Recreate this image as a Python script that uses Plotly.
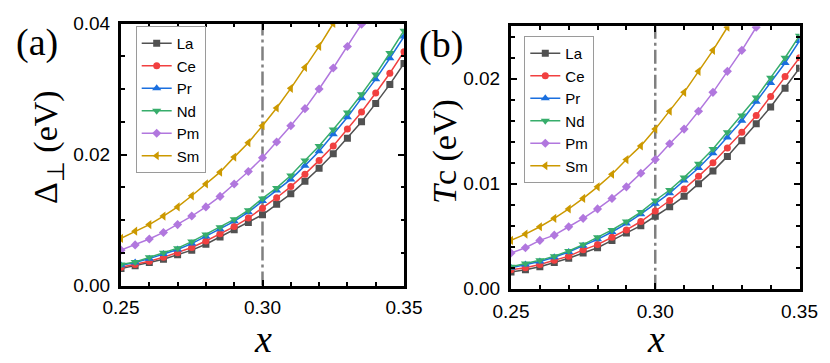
import plotly.graph_objects as go

X = [0.250, 0.255, 0.260, 0.265, 0.270, 0.275, 0.280, 0.285, 0.290, 0.295, 0.300,
     0.305, 0.310, 0.315, 0.320, 0.325, 0.330, 0.335, 0.340, 0.345, 0.350]

names = ["La", "Ce", "Pr", "Nd", "Pm", "Sm"]
colors = ["#515151", "#F14040", "#1A6FDF", "#37AD6B", "#B177DE", "#CC9900"]
symbols = ["square", "circle", "triangle-up", "triangle-down", "diamond", "triangle-left"]

# Panel (a): Delta_perp (eV)
delta_La = [0.0026, 0.0030, 0.0035, 0.0040, 0.0047, 0.0054, 0.0063, 0.0074, 0.0085, 0.0096, 0.0108,
            0.0124, 0.0140, 0.0159, 0.0179, 0.0201, 0.0225, 0.0250, 0.0278, 0.0307, 0.0339]
delta_Ce = [0.0028, 0.0032, 0.0037, 0.0043, 0.0050, 0.0058, 0.0068, 0.0079, 0.0090, 0.0103, 0.0118,
            0.0134, 0.0151, 0.0170, 0.0191, 0.0213, 0.0239, 0.0265, 0.0294, 0.0324, 0.0357]
delta_Pr = [0.0031, 0.0035, 0.0041, 0.0048, 0.0055, 0.0064, 0.0075, 0.0086, 0.0098, 0.0112, 0.0129,
            0.0145, 0.0162, 0.0183, 0.0205, 0.0231, 0.0257, 0.0286, 0.0315, 0.0347, 0.0380]
delta_Nd = [0.0032, 0.0036, 0.0043, 0.0050, 0.0057, 0.0067, 0.0078, 0.0089, 0.0101, 0.0115, 0.0133,
            0.0149, 0.0168, 0.0191, 0.0213, 0.0238, 0.0264, 0.0292, 0.0322, 0.0355, 0.0389]
delta_Pm = [0.0054, 0.0062, 0.0071, 0.0081, 0.0093, 0.0106, 0.0120, 0.0136, 0.0155, 0.0174, 0.0195,
            0.0219, 0.0244, 0.0270, 0.0300, 0.0332, 0.0365, 0.0399]
delta_Sm = [0.0072, 0.0083, 0.0093, 0.0106, 0.0120, 0.0137, 0.0155, 0.0173, 0.0196, 0.0218, 0.0244,
            0.0271, 0.0301, 0.0333, 0.0365, 0.0400]

# Panel (b): Tc (eV)
tc_La = [0.0016, 0.0018, 0.0021, 0.0025, 0.0029, 0.0034, 0.0039, 0.0046, 0.0053, 0.0060, 0.0069,
         0.0078, 0.0088, 0.0100, 0.0112, 0.0126, 0.0141, 0.0157, 0.0173, 0.0191, 0.0210]
tc_Ce = [0.0018, 0.0020, 0.0023, 0.0027, 0.0031, 0.0037, 0.0042, 0.0049, 0.0056, 0.0064, 0.0074,
         0.0084, 0.0095, 0.0107, 0.0120, 0.0134, 0.0149, 0.0165, 0.0183, 0.0202, 0.0220]
tc_Pr = [0.0020, 0.0023, 0.0026, 0.0030, 0.0035, 0.0041, 0.0047, 0.0054, 0.0062, 0.0071, 0.0081,
         0.0091, 0.0103, 0.0115, 0.0129, 0.0144, 0.0160, 0.0178, 0.0196, 0.0215, 0.0236]
tc_Nd = [0.0021, 0.0024, 0.0027, 0.0031, 0.0036, 0.0042, 0.0049, 0.0056, 0.0064, 0.0073, 0.0084,
         0.0094, 0.0106, 0.0119, 0.0133, 0.0149, 0.0165, 0.0182, 0.0201, 0.0220, 0.0241]
tc_Pm = [0.0034, 0.0039, 0.0046, 0.0051, 0.0059, 0.0067, 0.0076, 0.0086, 0.0097, 0.0110, 0.0123,
         0.0138, 0.0152, 0.0169, 0.0187, 0.0207, 0.0227, 0.0249]
tc_Sm = [0.0046, 0.0052, 0.0059, 0.0067, 0.0076, 0.0086, 0.0097, 0.0109, 0.0123, 0.0136, 0.0152,
         0.0169, 0.0187, 0.0207, 0.0227, 0.0249]

panel_a = [delta_La, delta_Ce, delta_Pr, delta_Nd, delta_Pm, delta_Sm]
panel_b = [tc_La, tc_Ce, tc_Pr, tc_Nd, tc_Pm, tc_Sm]

W, H = 830, 363
fig = go.Figure()

for i, n in enumerate(names):
    msize = 8 if "triangle" in symbols[i] else 7
    fig.add_trace(go.Scatter(
        x=X[:len(panel_a[i])], y=panel_a[i], name=n, mode="lines+markers",
        line=dict(color=colors[i], width=1.5),
        marker=dict(symbol=symbols[i], size=msize, color=colors[i]),
        xaxis="x", yaxis="y", legend="legend"))
for i, n in enumerate(names):
    msize = 8 if "triangle" in symbols[i] else 7
    fig.add_trace(go.Scatter(
        x=X[:len(panel_b[i])], y=panel_b[i], name=n, mode="lines+markers",
        line=dict(color=colors[i], width=1.5),
        marker=dict(symbol=symbols[i], size=msize, color=colors[i]),
        xaxis="x2", yaxis="y2", legend="legend2"))

tickfont = dict(family="Liberation Sans, Arial", size=19, color="black")
serif = "Liberation Serif, Times New Roman"

def xax(domain, anchor):
    return dict(domain=domain, anchor=anchor, range=[0.25, 0.35], tickvals=[0.25, 0.30, 0.35],
                ticktext=["0.25", "0.30", "0.35"], ticks="inside", ticklen=6, tickwidth=1.5,
                tickcolor="black", showline=True, linewidth=3, linecolor="black", mirror="ticks",
                showgrid=False, zeroline=False, tickfont=tickfont, automargin=False,
                ticklabelstandoff=3,
                minor=dict(ticks="inside", dtick=0.01, ticklen=3.5, tickwidth=1.5, tickcolor="black", showgrid=False))

def yax(domain, anchor, rng, major, minor, labels):
    return dict(domain=domain, anchor=anchor, range=rng, tickvals=major, ticktext=labels,
                ticks="inside", ticklen=6, tickwidth=1.5, tickcolor="black", showline=True,
                linewidth=3, linecolor="black", mirror="ticks", showgrid=False, zeroline=False,
                tickfont=tickfont, ticklabelstandoff=4, automargin=False,
                minor=dict(ticks="inside", dtick=minor, ticklen=3.5, tickwidth=1.5, tickcolor="black", showgrid=False))

legfont = dict(family="Liberation Sans, Arial", size=15, color="black")

def ann(text, x, y, size, angle=0):
    return dict(text=text, x=x / W, y=1 - y / H, xref="paper", yref="paper", showarrow=False,
                xanchor="center", yanchor="middle", textangle=angle,
                font=dict(family=serif, size=size, color="black"))

fig.update_layout(
    width=W, height=H, margin=dict(l=0, r=0, t=0, b=0, autoexpand=False),
    paper_bgcolor="white", plot_bgcolor="white",
    xaxis=xax([121 / W, 404 / W], "y"),
    yaxis=yax([1 - 285.5 / H, 1 - 23.5 / H], "x", [0, 0.04], [0, 0.02, 0.04], 0.005, ["0.00", "0.02", "0.04"]),
    xaxis2=xax([511 / W, 799.5 / W], "y2"),
    yaxis2=yax([1 - 288.7 / H, 1 - 26.2 / H], "x2", [0, 0.025], [0, 0.01, 0.02], 0.002, ["0.00", "0.01", "0.02"]),
    legend=dict(x=135.7 / W, y=1 - 26 / H, xanchor="left", yanchor="top", bgcolor="white",
                bordercolor="#9a9a9a", borderwidth=1, font=legfont, tracegroupgap=0),
    legend2=dict(x=524.3 / W, y=1 - 36 / H, xanchor="left", yanchor="top", bgcolor="white",
                 bordercolor="#9a9a9a", borderwidth=1, font=legfont, tracegroupgap=0),
    showlegend=True,
    shapes=[
        dict(type="line", xref="x", yref="y domain", x0=0.30, x1=0.30, y0=0, y1=1,
             line=dict(color="#808080", width=2.5, dash="14px,4px,3px,4px"), layer="below"),
        dict(type="line", xref="x2", yref="y2 domain", x0=0.30, x1=0.30, y0=0, y1=1,
             line=dict(color="#808080", width=2.5, dash="14px,4px,3px,4px"), layer="below"),
    ],
    annotations=[
        ann("(a)", 37, 42, 38),
        ann("(b)", 441, 44, 38),
        ann("Δ<sub>⊥</sub> (eV)", 48, 147, 34, -90),
        ann("<i>T</i>c (eV)", 445, 152, 34, -90),
        ann("<i>x</i>", 262.5, 339, 38),
        ann("<i>x</i>", 655.5, 339, 38),
    ],
)

fig.write_html("out.html", config={"displayModeBar": False},
               post_script="document.body.style.margin='0';document.body.style.overflow='hidden';")
